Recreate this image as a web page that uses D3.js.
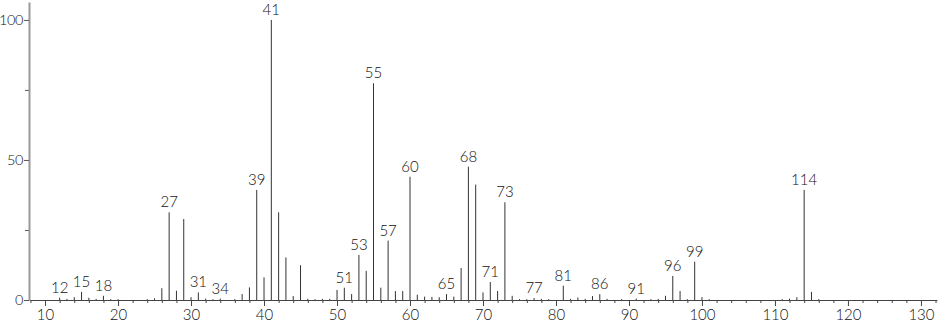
<!DOCTYPE html>
<html>
<head>
<meta charset="utf-8">
<script src="https://cdn.jsdelivr.net/npm/d3@7"></script>
<style>
  body { margin: 0; background: #fff; }
  svg text { font-family: "Lato", "DejaVu Sans", sans-serif; font-weight: 300; fill: #111; }
</style>
</head>
<body>
<svg id="chart" width="940" height="322"></svg>
<script>
// m/z values and relative intensities
const mz = [12, 13, 14, 15, 16, 17, 18, 19, 20, 24, 25, 26, 27, 28, 29, 30, 31, 32, 33, 34,
    36, 37, 38, 39, 40, 41, 42, 43, 44, 45, 46, 47, 48, 49, 50, 51, 52, 53, 54, 55,
    56, 57, 58, 59, 60, 61, 62, 63, 64, 65, 66, 67, 68, 69, 70, 71, 72, 73, 74, 75,
    76, 77, 78, 79, 81, 82, 83, 84, 85, 86, 87, 89, 91, 93, 94, 95, 96, 97, 98, 99,
    100, 101, 111, 112, 113, 114, 115, 116];
const intensity = [0.8, 0.4, 1.0, 2.9, 0.8, 0.4, 1.5, 0.3, 0.3, 0.3, 0.6, 4.2, 31.3, 3.3, 28.9, 1.0, 2.7, 0.5, 0.3, 0.5,
    0.3, 2.1, 4.5, 39.3, 8.1, 100, 31.3, 15.2, 1.4, 12.4, 0.4, 0.3, 0.4, 0.4, 3.6, 4.4, 2.1, 16.1, 10.4, 77.4,
    4.4, 21.2, 3.2, 3.2, 44.0, 1.9, 1.2, 1.1, 1.0, 2.1, 1.2, 11.4, 47.6, 41.2, 2.7, 6.4, 3.2, 34.9, 1.5, 0.3,
    0.3, 0.7, 0.4, 0.3, 5.1, 0.4, 0.9, 0.4, 1.4, 2.1, 0.4, 0.3, 0.5, 0.3, 0.4, 1.5, 8.6, 3.2, 0.3, 13.7,
    1.0, 0.3, 0.3, 0.5, 1.0, 39.3, 2.9, 0.3];
const labeledPeaks = [12, 15, 18, 27, 31, 34, 39, 41, 51, 53, 55, 57, 60, 65, 68, 71, 73, 77, 81, 86, 91, 96, 99, 114];
const xMajorTicks = [10, 20, 30, 40, 50, 60, 70, 80, 90, 100, 110, 120, 130];
const yMajorTicks = [0, 50, 100];
const yMinorTicks = [25, 75];

const peaks = mz.map((m, i) => ({ mz: m, value: intensity[i] }));

const svg = d3.select("#chart");

const x = d3.scaleLinear().domain([7.8, 132.2]).range([29, 937]);
const y = d3.scaleLinear().domain([0, 106.4]).range([300, 2]);

// minor x ticks every 2 units
const xMinor = d3.range(8, 133, 2).filter(d => d % 10 !== 0);
svg.append("g")
    .attr("transform", `translate(0,${y(0)})`)
    .call(d3.axisBottom(x).tickValues(xMinor).tickSize(3).tickFormat(""))
    .call(g => g.select(".domain").remove())
    .call(g => g.selectAll("line").attr("stroke", "#444"));

// x axis with major ticks
svg.append("g")
    .attr("transform", `translate(0,${y(0)})`)
    .call(d3.axisBottom(x).tickValues(xMajorTicks).tickSize(6).tickSizeOuter(0).tickPadding(3))
    .call(g => g.select(".domain").attr("stroke", "#444"))
    .call(g => g.selectAll("line").attr("stroke", "#444"))
    .call(g => g.selectAll("text").attr("font-size", 15).attr("fill", "#111"));

// y axis
svg.append("g")
    .attr("transform", `translate(${x.range()[0]},0)`)
    .call(d3.axisLeft(y).tickValues(yMinorTicks).tickSize(4).tickFormat(""))
    .call(g => g.select(".domain").remove())
    .call(g => g.selectAll("line").attr("stroke", "#555"));

svg.append("g")
    .attr("transform", `translate(${x.range()[0]},0)`)
    .call(d3.axisLeft(y).tickValues(yMajorTicks).tickSize(5).tickSizeOuter(0).tickPadding(1))
    .call(g => g.select(".domain").attr("stroke", "#999").attr("stroke-width", 2))
    .call(g => g.selectAll("line").attr("stroke", "#555"))
    .call(g => g.selectAll("text").attr("font-size", 14.5).attr("letter-spacing", -0.4).attr("fill", "#111"));

// peaks
svg.append("g")
    .selectAll("line")
    .data(peaks)
    .join("line")
    .attr("x1", d => x(d.mz))
    .attr("x2", d => x(d.mz))
    .attr("y1", y(0))
    .attr("y2", d => y(d.value))
    .attr("stroke", "#333")
    .attr("stroke-width", 1);

// peak labels
svg.append("g")
    .selectAll("text")
    .data(peaks.filter(d => labeledPeaks.includes(d.mz)))
    .join("text")
    .attr("x", d => x(d.mz))
    .attr("y", d => y(d.value) - 5)
    .attr("text-anchor", "middle")
    .attr("font-size", 15)
    .text(d => d.mz);
</script>
</body>
</html>
